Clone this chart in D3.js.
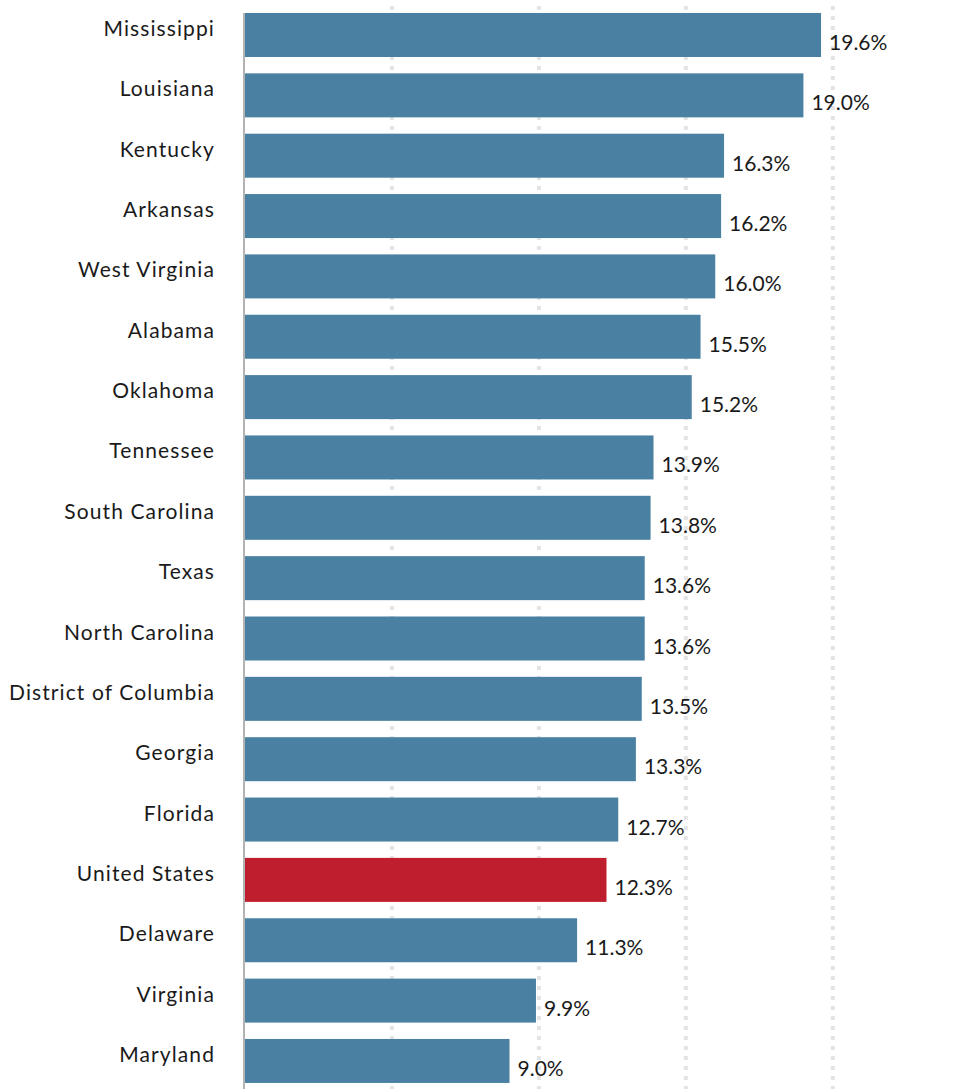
<!DOCTYPE html>
<html>
<head>
<meta charset="utf-8">
<script src="https://cdn.jsdelivr.net/npm/d3@7"></script>
<style>
  body { margin: 0; background: #fff; }
  svg text { font-family: Lato, "Open Sans", sans-serif; fill: #1a1a1a; }
</style>
</head>
<body>
<div id="chart"></div>
<script>
const states = ["Mississippi", "Louisiana", "Kentucky", "Arkansas", "West Virginia", "Alabama",
  "Oklahoma", "Tennessee", "South Carolina", "Texas", "North Carolina", "District of Columbia",
  "Georgia", "Florida", "United States", "Delaware", "Virginia", "Maryland"];
const rates = [19.6, 19.0, 16.3, 16.2, 16.0, 15.5, 15.2, 13.9, 13.8, 13.6, 13.6, 13.5,
  13.3, 12.7, 12.3, 11.3, 9.9, 9.0];
const gridTicks = [5, 10, 15, 20];
const highlight = "United States";

const width = 976, height = 1089;
const svg = d3.select("#chart").append("svg")
    .attr("width", width)
    .attr("height", height);

const x = d3.scaleLinear()
    .domain([0, 20])
    .range([245, 832.8]);

const step = 60.35, gap = 16.35;
const y = d3.scaleBand()
    .domain(states)
    .range([13 - gap / 2, 13 - gap / 2 + states.length * step])
    .paddingInner(gap / step)
    .paddingOuter(gap / step / 2);

// dotted gridlines
svg.append("g")
    .selectAll("line")
    .data(gridTicks)
    .enter()
    .append("line")
    .attr("x1", d => x(d))
    .attr("x2", d => x(d))
    .attr("y1", 6)
    .attr("y2", height)
    .attr("stroke", "#e4e4e4")
    .attr("stroke-width", 4)
    .attr("stroke-dasharray", "4,6");

// bars
svg.append("g")
    .selectAll("rect")
    .data(states)
    .enter()
    .append("rect")
    .attr("x", x(0))
    .attr("y", d => y(d))
    .attr("width", (d, i) => x(rates[i]) - x(0))
    .attr("height", y.bandwidth())
    .attr("fill", d => d == highlight ? "#be1e2d" : "#4a80a2");

// left axis line
svg.append("line")
    .attr("x1", 244)
    .attr("x2", 244)
    .attr("y1", 13)
    .attr("y2", height)
    .attr("stroke", "#b3b3b3")
    .attr("stroke-width", 2);

// category labels
svg.append("g")
    .selectAll("text")
    .data(states)
    .enter()
    .append("text")
    .attr("x", 215)
    .attr("y", d => y(d) + 23)
    .attr("text-anchor", "end")
    .attr("font-size", 21)
    .attr("letter-spacing", 1.1)
    .text(d => d);

// value labels
svg.append("g")
    .selectAll("text")
    .data(states)
    .enter()
    .append("text")
    .attr("x", (d, i) => x(rates[i]) + 8)
    .attr("y", d => y(d) + 37)
    .attr("font-size", 21)
    .text((d, i) => rates[i].toFixed(1) + "%");
</script>
</body>
</html>
